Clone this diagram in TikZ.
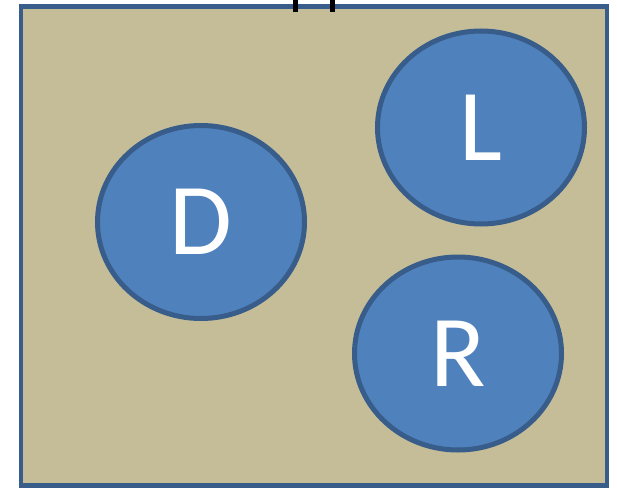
\documentclass[tikz,border=0pt]{standalone}
\usepackage{fontspec}
\setmainfont{Carlito}
\usetikzlibrary{positioning,shapes.geometric}
\definecolor{tanfill}{HTML}{C4BD97}
\definecolor{blobfill}{HTML}{4F81BD}
\definecolor{blobline}{HTML}{385D8A}
\begin{document}
\begin{tikzpicture}[x=1pt,y=-1pt,on grid,
    blob/.style={ellipse,fill=blobfill,draw=blobline,line width=5pt,minimum width=207pt,minimum height=193pt,text=white,font=\fontsize{102}{102}\selectfont}]
      \useasboundingbox (0,0) rectangle (617,489);
      \draw[fill=tanfill,draw=blobline,line width=4.5pt] (21,6.5) rectangle (607,485.5);
      \node[blob] (d) at (201,222) {D};
      \node[blob,above right=94.5pt and 280pt of d] (l) {L};
      \node[blob,below left=226pt and 23pt of l] (r) {R};
      \coordinate (t1) at (295,0);
      \coordinate (t2) at (332,0);
      \draw[line width=5pt] (t1) -- ++(0,12);
      \draw[line width=5pt] (t2) -- ++(0,12);
    \end{tikzpicture}
\end{document}
